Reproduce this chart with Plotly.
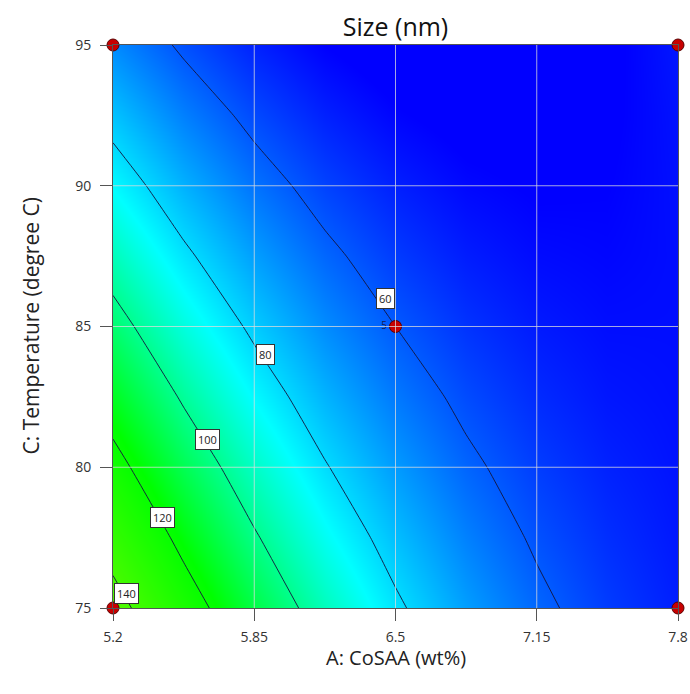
import plotly.graph_objects as go

cosaa = [5.2, 5.525, 5.85, 6.175, 6.5, 6.825, 7.15, 7.475, 7.8]
temperature = [75, 77.5, 80, 82.5, 85, 87.5, 90, 92.5, 95]

# Size (nm), rows = temperature, cols = CoSAA
size_75 = [144.9, 126.1, 109.3, 94.5, 81.7, 70.9, 62.2, 55.4, 50.7]
size_77_5 = [134.3, 116.7, 101.1, 87.5, 75.9, 66.3, 58.7, 53.2, 49.6]
size_80 = [124.0, 107.6, 93.2, 80.7, 70.3, 61.9, 55.5, 51.2, 48.8]
size_82_5 = [114.0, 98.7, 85.5, 74.2, 65.0, 57.8, 52.6, 49.4, 48.3]
size_85 = [104.2, 90.1, 78.1, 68.0, 60.0, 54.0, 50.0, 48.0, 48.0]
size_87_5 = [94.7, 81.8, 71.0, 62.1, 55.2, 50.4, 47.6, 46.8, 48.0]
size_90 = [85.5, 73.8, 64.1, 56.4, 50.8, 47.1, 45.5, 45.9, 48.3]
size_92_5 = [76.5, 66.0, 57.5, 51.0, 46.5, 44.1, 43.6, 45.2, 48.8]
size_95 = [67.8, 58.5, 51.2, 45.9, 42.6, 41.3, 42.1, 44.8, 49.6]
size_grid = [size_75, size_77_5, size_80, size_82_5, size_85,
             size_87_5, size_90, size_92_5, size_95]

# Contour levels and their label positions
contour_levels = [60, 80, 100, 120, 140]
label_x = [6.452, 5.90, 5.637, 5.4255, 5.264]
label_y = [86.01, 83.99, 80.97, 78.23, 75.53]

# Design points
design_a = [5.2, 5.2, 7.8, 7.8, 6.5]
design_c = [75, 95, 75, 95, 85]
design_text = ["", "", "", "", "5"]

x_ticks = [5.2, 5.85, 6.5, 7.15, 7.8]
x_tick_text = ["5.2", "5.85", "6.5", "7.15", "7.8"]
y_ticks = [75, 80, 85, 90, 95]

FONT = "Open Sans"

zmin, zmax = 46, 145
def pos(v):
    return (v - zmin) / (zmax - zmin)

colorscale = [
    [0.0, "rgb(0,0,255)"],
    [pos(86), "rgb(0,255,255)"],
    [pos(118), "rgb(0,255,0)"],
    [1.0, "rgb(85,250,0)"],
]

fig = go.Figure()
fig.add_trace(go.Contour(
    x=cosaa, y=temperature, z=size_grid,
    colorscale=colorscale, zmin=zmin, zmax=zmax, zauto=False,
    autocontour=False,
    contours=dict(start=contour_levels[0], end=contour_levels[-1], size=20,
                  coloring="heatmap", showlabels=False),
    line=dict(color="rgba(20,20,60,0.9)", width=1, smoothing=0.5),
    showscale=False, hoverinfo="skip",
))

# Grid lines drawn above the colour fill
for xv in x_ticks[1:-1]:
    fig.add_shape(type="line", x0=xv, x1=xv, y0=y_ticks[0], y1=y_ticks[-1],
                  line=dict(color="rgba(220,220,220,0.75)", width=1), layer="above")
for yv in y_ticks[1:-1]:
    fig.add_shape(type="line", x0=x_ticks[0], x1=x_ticks[-1], y0=yv, y1=yv,
                  line=dict(color="rgba(220,220,220,0.75)", width=1), layer="above")

# Design points
fig.add_trace(go.Scatter(
    x=design_a, y=design_c, mode="markers+text",
    text=design_text, textposition="middle left",
    textfont=dict(family=FONT, size=10, color="#1a1a50"),
    marker=dict(size=12, color="#c80000", line=dict(color="#5a0000", width=1)),
    cliponaxis=False, hoverinfo="skip", showlegend=False,
))

# Contour labels with boxes
for lv, lx, ly in zip(contour_levels, label_x, label_y):
    fig.add_annotation(x=lx, y=ly, text=str(lv), showarrow=False,
                       font=dict(family=FONT, size=11, color="#222"),
                       bgcolor="white", bordercolor="#333", borderwidth=1,
                       borderpad=2)

fig.update_xaxes(range=[x_ticks[0], x_ticks[-1]], tickvals=x_ticks,
                 ticktext=x_tick_text, ticks="outside", ticklen=12,
                 tickcolor="#555", showgrid=False, zeroline=False,
                 showline=True, linecolor="#555", mirror=True,
                 ticklabelstandoff=4, automargin=False,
                 tickfont=dict(family=FONT, size=14, color="#333"))
fig.update_yaxes(range=[y_ticks[0], y_ticks[-1]], tickvals=y_ticks,
                 ticks="outside", ticklen=12, tickcolor="#555",
                 showgrid=False, zeroline=False,
                 showline=True, linecolor="#555", mirror=True,
                 ticklabelstandoff=6, automargin=False,
                 tickfont=dict(family=FONT, size=14, color="#333"))

fig.add_annotation(xref="paper", yref="paper", x=0.5, y=0, yshift=-49,
                   xanchor="center", yanchor="middle", showarrow=False,
                   text="A: CoSAA (wt%)",
                   font=dict(family=FONT, size=20, color="#222"))
fig.add_annotation(xref="paper", yref="paper", x=0, y=0.5, xshift=-83,
                   xanchor="center", yanchor="middle", showarrow=False,
                   textangle=-90, text="C: Temperature (degree C)",
                   font=dict(family=FONT, size=21, color="#222"))

fig.update_layout(
    width=690, height=694,
    margin=dict(l=113, r=12, t=45, b=86, autoexpand=False),
    paper_bgcolor="white", plot_bgcolor="white",
    title=dict(text="Size (nm)", x=0.5, xref="paper", xanchor="center",
               y=1 - 27 / 694, yref="container", yanchor="middle",
               font=dict(family=FONT, size=25, color="#111")),
    showlegend=False,
)

fig.write_html("out.html", config={"displayModeBar": False})

# remove the default page margin so the figure sits at the window origin
with open("out.html", "r", encoding="utf-8") as fh:
    html = fh.read()
html = html.replace("<head>", "<head><style>html,body{margin:0;padding:0;overflow:hidden;}</style>", 1)
with open("out.html", "w", encoding="utf-8") as fh:
    fh.write(html)
